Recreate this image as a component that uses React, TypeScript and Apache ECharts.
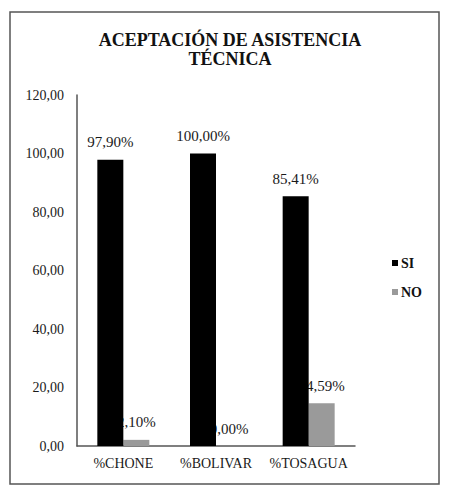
import { useEffect, useRef } from 'react'
import * as echarts from 'echarts'

const CATEGORIES = ['%CHONE', '%BOLIVAR', '%TOSAGUA']
const SI_VALUES = [97.9, 100.0, 85.41]
const NO_VALUES = [2.1, 0.0, 14.59]
const Y_MAX = 120
const Y_STEP = 20

const FONT = 'Liberation Serif'
const comma = (v: number) => v.toFixed(2).replace('.', ',')

export default function App() {
  const ref = useRef<HTMLDivElement>(null)

  useEffect(() => {
    if (!ref.current) return
    document.body.style.margin = '0'
    const chart = echarts.init(ref.current, null, { renderer: 'svg' })

    // NO labels sit under the SI bars (z below), as in the original
    const labelStyle = {
      show: true,
      position: 'top' as const,
      distance: 10,
      fontFamily: FONT,
      fontSize: 15,
      color: '#1a1a1a',
      formatter: (p: any) => `${comma(p.value)}%`,
    }

    chart.setOption({
      animation: false,
      backgroundColor: '#ffffff',
      title: {
        text: 'ACEPTACIÓN DE ASISTENCIA\nTÉCNICA',
        left: 225,
        top: 25,
        textAlign: 'center',
        textStyle: {
          fontFamily: FONT,
          fontSize: 18,
          fontWeight: 'bold',
          lineHeight: 19,
          color: '#111',
        },
      },
      graphic: [{
        type: 'rect',
        shape: { x: 10, y: 12, width: 429, height: 472 },
        style: { fill: 'none', stroke: '#555', lineWidth: 1.5 },
        silent: true,
      }],
      legend: {
        orient: 'vertical',
        left: 387,
        top: 251,
        itemWidth: 6,
        itemHeight: 6,
        itemGap: 15,
        icon: 'rect',
        textStyle: { fontFamily: FONT, fontSize: 14, fontWeight: 'bold', color: '#111', padding: [0, 0, 0, -2] },
        data: ['SI', 'NO'],
      },
      grid: { left: 77, right: 97, top: 95, bottom: 50 },
      xAxis: {
        type: 'category',
        data: CATEGORIES,
        axisLine: { lineStyle: { color: '#555', width: 1.5 } },
        axisTick: { show: false },
        axisLabel: { interval: 0, fontFamily: FONT, fontSize: 14, color: '#1a1a1a', margin: 10 },
      },
      yAxis: {
        type: 'value',
        min: 0,
        max: Y_MAX,
        interval: Y_STEP,
        axisLine: { show: true, lineStyle: { color: '#555', width: 1.5 } },
        axisTick: { show: false },
        splitLine: { show: false },
        axisLabel: {
          fontFamily: FONT,
          fontSize: 14,
          color: '#1a1a1a',
          margin: 13,
          formatter: (v: number) => comma(v),
        },
      },
      series: [
        {
          name: 'SI',
          type: 'bar',
          data: SI_VALUES,
          barWidth: 26,
          barGap: '0%',
          itemStyle: { color: '#000000' },
          label: labelStyle,
          z: 4,
        },
        {
          name: 'NO',
          type: 'bar',
          data: NO_VALUES,
          barWidth: 26,
          itemStyle: { color: '#9a9a9a' },
          label: labelStyle,
          z: 2,
        },
      ],
    })

    return () => chart.dispose()
  }, [])

  return <div ref={ref} style={{ width: 452, height: 496 }} />
}
